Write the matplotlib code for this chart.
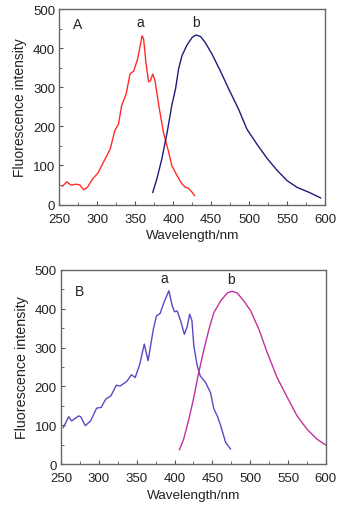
import matplotlib
matplotlib.use('Agg')
import matplotlib.pyplot as plt
from matplotlib.ticker import MultipleLocator

plt.rcParams['font.family'] = ['Liberation Sans', 'DejaVu Sans']

# Panel A, curve a (red)
a_red_x = [254, 260, 265, 273, 277, 282, 287, 294, 301, 308, 317, 323, 328, 332,
           338, 343, 348, 353, 359, 361, 364, 367.5, 370, 373, 376, 381, 387, 394,
           398, 405, 411.5, 416, 420, 425, 428]
a_red_y = [47, 58, 50, 52, 50, 38, 44, 66, 81, 108, 142, 189, 206, 253,
           283, 334, 342, 372, 432, 423, 364, 314, 317, 334, 317, 253, 185, 134,
           100, 74, 53, 44, 42, 31, 23]

# Panel A, curve b (navy)
a_navy_x = [373, 378.5, 385, 392, 398, 403, 407, 411.5, 418, 425, 430, 436, 442,
            451, 462, 473, 486, 497, 510, 524, 537, 550, 563, 579, 594]
a_navy_y = [31, 66, 117, 185, 253, 296, 347, 381, 408, 428, 434, 430, 415,
            385, 342, 296, 244, 193, 155, 117, 87, 61, 44, 31, 17]

# Panel B, curve a (violet)
b_violet_x = [253, 260, 264, 273, 276, 282, 289, 297, 303, 309, 316, 323, 328,
              337, 343, 348, 354, 360, 365, 372, 376, 381, 386, 392.5, 397, 400,
              403.5, 408, 413, 417, 420, 423, 425.5, 430, 434, 441, 447.5, 452,
              456.5, 461, 467.5, 474]
b_violet_y = [94, 122, 111, 124, 122, 99, 111, 144, 146, 167, 176, 203, 201,
              213, 230, 223, 257, 309, 266, 347, 381, 388, 416, 446, 407, 392,
              394, 369, 334, 356, 386, 369, 304, 253, 227, 210, 184, 142,
              124, 99, 56, 39]

# Panel B, curve b (magenta)
b_mag_x = [406.5, 412, 419, 425.5, 432, 439, 445.5, 452, 461, 469.5, 476, 483,
           491.5, 500.5, 511.5, 522.5, 535.5, 549, 562, 575, 588.5, 600]
b_mag_y = [37, 64, 116, 172, 236, 296, 347, 390, 420, 440, 445, 440,
           420, 395, 347, 287, 223, 172, 124, 90, 64, 49]

panels = [
    ('A', [0.171, 0.597, 0.766, 0.383],
     [(a_red_x, a_red_y, '#ff2b2b'), (a_navy_x, a_navy_y, '#1c1c7a')],
     (274, 463), [('a', 357, 466), ('b', 430, 466)], 10.0),
    ('B', [0.176, 0.088, 0.763, 0.381],
     [(b_violet_x, b_violet_y, '#5a48c4'), (b_mag_x, b_mag_y, '#c2319e')],
     (274, 446), [('a', 386, 478), ('b', 474, 476)], 10.3),
]

fig = plt.figure(figsize=(3.47, 5.10), dpi=100)

for name, rect, curves, name_pos, labels, ysize in panels:
    ax = fig.add_axes(rect)
    for x, y, c in curves:
        ax.plot(x, y, color=c, lw=1.0)
    ax.set_xlim(250, 600)
    ax.set_ylim(0, 500)
    ax.xaxis.set_major_locator(MultipleLocator(50))
    ax.xaxis.set_minor_locator(MultipleLocator(25))
    ax.yaxis.set_major_locator(MultipleLocator(100))
    ax.yaxis.set_minor_locator(MultipleLocator(50))
    ax.tick_params(which='both', direction='in', top=False, right=False,
                   colors='#555555', labelcolor='#222222', labelsize=9.5)
    ax.tick_params(which='major', length=3)
    ax.tick_params(which='minor', length=2.5)
    ax.tick_params(axis='x', which='major', pad=6)
    ax.tick_params(axis='y', which='major', pad=3)
    for s in ax.spines.values():
        s.set_color('#666666')
        s.set_linewidth(1.0)
    ax.set_xlabel('Wavelength/nm', fontsize=9.7, color='#222222', labelpad=3)
    ax.set_ylabel('Fluorescence intensity', fontsize=ysize, color='#222222', labelpad=4)
    ax.text(name_pos[0], name_pos[1], name, fontsize=10, color='#222222',
            ha='center', va='center')
    for t, tx, ty in labels:
        ax.text(tx, ty, t, fontsize=10, color='#222222', ha='center', va='center')

fig.savefig('out.png', dpi=100)
